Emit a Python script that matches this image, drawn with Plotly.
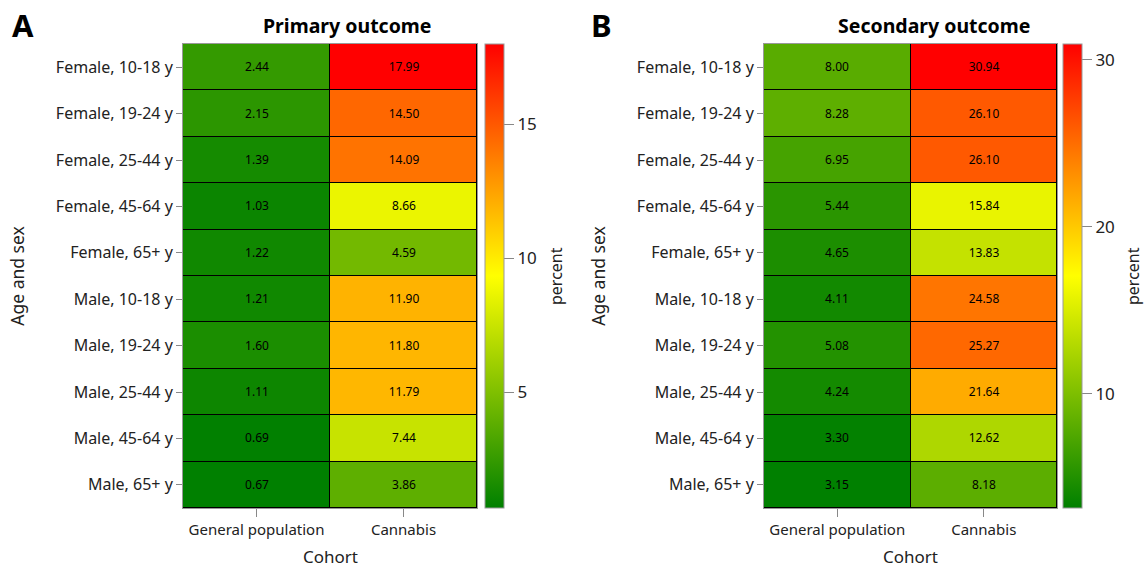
import plotly.graph_objects as go

groups = ["Female, 10-18 y", "Female, 19-24 y", "Female, 25-44 y", "Female, 45-64 y",
          "Female, 65+ y", "Male, 10-18 y", "Male, 19-24 y", "Male, 25-44 y",
          "Male, 45-64 y", "Male, 65+ y"]
cohorts = ["General population", "Cannabis"]

primary_general = [2.44, 2.15, 1.39, 1.03, 1.22, 1.21, 1.60, 1.11, 0.69, 0.67]
primary_cannabis = [17.99, 14.50, 14.09, 8.66, 4.59, 11.90, 11.80, 11.79, 7.44, 3.86]
secondary_general = [8.00, 8.28, 6.95, 5.44, 4.65, 4.11, 5.08, 4.24, 3.30, 3.15]
secondary_cannabis = [30.94, 26.10, 26.10, 15.84, 13.83, 24.58, 25.27, 21.64, 12.62, 8.18]

FONT = "Noto Sans"
scale = [[0, "#008000"], [0.5, "#ffff00"], [1, "#ff0000"]]

W, H = 1145, 571
def px(x): return x / W
def py(y): return 1 - y / H

panels = [
    dict(g=primary_general, c=primary_cannabis, cbx=485, dtick=5, cx=330, px_title=556),
    dict(g=secondary_general, c=secondary_cannabis, cbx=1063, dtick=10, cx=910, px_title=1133),
]
top, bot = 44, 508

fig = go.Figure()
for i, p in enumerate(panels):
    z = [[a, b] for a, b in zip(p["g"], p["c"])]
    xa = "x" if i == 0 else "x2"
    ya = "y" if i == 0 else "y2"
    fig.add_trace(go.Heatmap(
        z=z, x=cohorts, y=groups, xaxis=xa, yaxis=ya,
        colorscale=scale, xgap=1, ygap=1,
        texttemplate="%{z:.2f}", textfont=dict(size=12, color="black", family=FONT),
        hoverinfo="skip",
        colorbar=dict(
            x=px(p["cbx"]), xanchor="left", xref="paper", xpad=0, ypad=0,
            y=(py(top) + py(bot)) / 2, yanchor="middle",
            len=(bot - top) / H, lenmode="fraction",
            thickness=19, thicknessmode="pixels",
            outlinecolor="#999999", outlinewidth=1,
            ticks="outside", ticklen=10, tickcolor="#888888",
            dtick=p["dtick"], tickfont=dict(size=17, family=FONT, color="#222"),
        ),
    ))
    fig.add_annotation(text="percent", textangle=-90, x=px(p["px_title"]), y=py(276),
                       xref="paper", yref="paper", showarrow=False,
                       font=dict(size=16, color="#222", family=FONT),
                       xanchor="center", yanchor="middle")
    fig.add_annotation(text="Cohort", x=px(p["cx"]), y=py(556),
                       xref="paper", yref="paper", showarrow=False,
                       font=dict(size=17, color="#222", family=FONT),
                       xanchor="center", yanchor="middle")

axis_common = dict(showgrid=False, zeroline=False, showline=True, linecolor="#999999",
                   linewidth=1, mirror=True, ticks="outside", tickcolor="#888888")
fig.update_layout(
    width=W, height=H, margin=dict(l=0, r=0, t=0, b=0),
    paper_bgcolor="white", plot_bgcolor="black",
    font=dict(family=FONT, color="#222"),
    xaxis=dict(domain=[px(183), px(477)], anchor="y", **axis_common, ticklen=8,
               tickfont=dict(size=15)),
    yaxis=dict(domain=[py(bot), py(top)], anchor="x", autorange="reversed", **axis_common, ticklen=6,
               tickfont=dict(size=16), title=dict(text="Age and sex", font=dict(size=17.5), standoff=26)),
    xaxis2=dict(domain=[px(764), px(1057)], anchor="y2", **axis_common, ticklen=8,
                tickfont=dict(size=15)),
    yaxis2=dict(domain=[py(bot), py(top)], anchor="x2", autorange="reversed", **axis_common, ticklen=6,
                tickfont=dict(size=16), title=dict(text="Age and sex", font=dict(size=17.5), standoff=26)),
)

titles = [("Primary outcome", 347), ("Secondary outcome", 934)]
for t, cx in titles:
    fig.add_annotation(text="<b>%s</b>" % t, x=px(cx), y=py(25), xref="paper", yref="paper",
                       showarrow=False, font=dict(size=19.5, color="black", family=FONT),
                       xanchor="center", yanchor="middle")
for lab, lx in [("A", 10), ("B", 589)]:
    fig.add_annotation(text="<b>%s</b>" % lab, x=px(lx), y=py(25), xref="paper", yref="paper",
                       showarrow=False, font=dict(size=31, color="black", family=FONT),
                       xanchor="left", yanchor="middle")

fig.write_html("out.html", config={"displayModeBar": False},
               post_script="document.body.style.margin='0';document.body.style.padding='0';")
